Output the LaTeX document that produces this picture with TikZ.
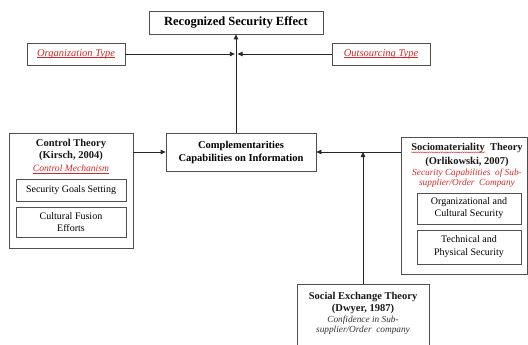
\documentclass[tikz,border=0pt]{standalone}
\usepackage{fontspec}
\setmainfont{Liberation Serif}
\usetikzlibrary{arrows.meta,decorations.pathmorphing,calc}
\definecolor{linegray}{RGB}{80,80,80}
\definecolor{mred}{RGB}{215,40,40}
% underline drawn just below the baseline
\newcommand{\lined}[1]{\setbox0\hbox{#1}\rlap{\rule[-1.4pt]{\wd0}{0.45pt}}\box0}
\tikzset{
  box/.style={draw=linegray, line width=0.8pt, rectangle, inner sep=0pt},
  txt/.style={inner sep=0pt, align=center, text=black!90},
  arr/.style={draw=black!85, line width=0.8pt, -{Triangle[length=5pt,width=4.5pt]}},
  bhead/.style={txt, font=\fontsize{10.5}{12.5}\selectfont\bfseries},
  plain/.style={txt, font=\fontsize{10}{12.5}\selectfont},
  note/.style={txt, font=\fontsize{9.3}{10.5}\selectfont\itshape, text=mred}
}
\begin{document}
\begin{tikzpicture}[x=1pt,y=-1pt]
\useasboundingbox[fill=white] (0,0) rectangle (528,345);

% outcome
\node[box, minimum width=174pt, minimum height=23pt, font=\fontsize{12.5}{14}\selectfont\bfseries] (rse) at (236,22.5) {Recognized Security Effect};

% moderators
\node[box, minimum width=98pt, minimum height=22pt, font=\fontsize{10.5}{12}\selectfont\itshape, text=mred] (org) at (76,54) {\lined{Organization Type}};
\node[box, minimum width=98pt, minimum height=22pt, font=\fontsize{10.5}{12}\selectfont\itshape, text=mred] (out) at (381,54) {\lined{Outsourcing Type}};

% control theory block
\node[box, minimum width=124pt, minimum height=115pt] (ct) at (71,190.5) {};
\node[bhead] (cth) at (71,150) {Control Theory\\(Kirsch, 2004)};
\node[note, font=\fontsize{9.6}{11}\selectfont\itshape] (ctn) at (71,169) {\lined{Control Mechanism}};
\node[box, minimum width=110pt, minimum height=22pt, font=\fontsize{10}{12.5}\selectfont] (sgs) at (71,190) {Security Goals Setting};
\node[box, minimum width=110pt, minimum height=30pt, align=center, font=\fontsize{10}{12}\selectfont] (cfe) at (71,222) {Cultural Fusion\\Efforts};

% central construct
\node[box, minimum width=150pt, minimum height=38pt, align=center, font=\fontsize{10.5}{13}\selectfont\bfseries] (comp) at (241,152) {Complementarities\\Capabilities on Information};

% sociomateriality block
\node[box, minimum width=126pt, minimum height=137pt] (soc) at (464,205.5) {};
\node[bhead] (soct) at (467,148) {Sociomateriality \ Theory};
\node[bhead] (socy) at (467,161.5) {(Orlikowski, 2007)};
\node[note] (socn) at (467,178) {Security Capabilities \ of Sub-\\supplier/Order \ Company};
\node[box, minimum width=104pt, minimum height=31pt, align=center, font=\fontsize{10}{12}\selectfont] (ocs) at (469,208.5) {Organizational and\\Cultural Security};
\node[box, minimum width=104pt, minimum height=34pt, align=center, font=\fontsize{10}{13}\selectfont] (tps) at (469,247) {Technical and\\Physical Security};
\draw[mred, line width=0.4pt, decorate, decoration={snake, amplitude=0.5pt, segment length=2.2pt}]
  ($(soct.base west)+(0,1.8)$) -- ++(74,0);

% social exchange block (runs past the lower edge)
\node[box, minimum width=132pt, minimum height=70pt, anchor=north] (set) at (363,284) {};
\node[bhead] (seth) at (363,303) {Social Exchange Theory\\(Dwyer, 1987)};
\node[note, text=black!80] (setn) at (363,325) {Confidence in Sub-\\supplier/Order \ company};

% connectors
\coordinate (jl) at (234.8,54);
\coordinate (jr) at (237.6,54);
\draw[arr] (org.east) -- (jl);
\draw[arr] (out.west) -- (jr);
\draw[arr] (comp.north -| rse.south) -- (rse.south);
\draw[arr] (ct.east |- comp.west) -- (comp.west);
\draw[arr] (soc.west |- comp.east) -- (comp.east);
\draw[arr] (set.north) -- (set.north |- comp.east);
\end{tikzpicture}
\end{document}
